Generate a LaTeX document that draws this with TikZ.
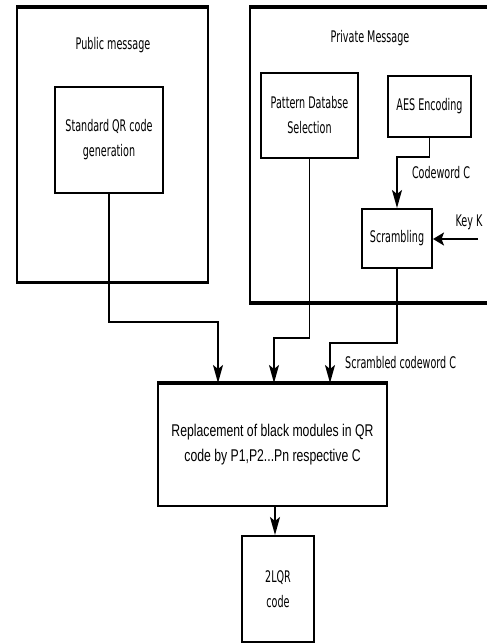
\documentclass[tikz,border=0pt]{standalone}
\usepackage{fontspec}
\newfontfamily\dvfont[FakeStretch=0.6]{DejaVu Sans}
\newfontfamily\lsfont[FakeStretch=0.72]{Liberation Sans}
\usetikzlibrary{arrows.meta}
\tikzset{
  box/.style={draw, line width=2pt, inner sep=0pt, align=center, font=\dvfont\fontsize{16}{25}\selectfont},
  outerbox/.style={draw, line width=2pt, inner sep=0pt},
  lbl/.style={inner sep=0pt, align=center, font=\dvfont\fontsize{16}{25}\selectfont},
  arr/.style={line width=1.8pt, -{Stealth[length=18pt,width=10pt,inset=4pt]}},
  harr/.style={line width=1.8pt, -{Stealth[length=11pt,width=13pt,inset=2.5pt]}},
  thickedge/.style={line width=4pt}
}
\begin{document}
\begin{tikzpicture}[x=1pt,y=-1pt]
\useasboundingbox (0,0) rectangle (487,643);
\clip (0,0) rectangle (487,643);
\fill[white] (0,0) rectangle (487,643);
% outer boxes
\node[outerbox, minimum width=191pt, minimum height=274pt] (pub) at (112.5,144.5) {};
\draw[thickedge] (pub.north west) -- (pub.north east);
\draw[line width=3pt] (pub.south west) -- (pub.south east);
\node[lbl] (pubt) at (113,45) {Public message};
\node[outerbox, minimum width=270pt, minimum height=294pt] (priv) at (385,155) {};
\draw[thickedge] (priv.north west) -- (priv.north east);
\draw[line width=3pt] (priv.south west) -- (priv.south east);
\node[lbl] (privt) at (370,38) {Private Message};
% inner boxes
\node[box, minimum width=108pt, minimum height=106pt] (std) at (109,140) {Standard QR code\\generation};
\node[box, minimum width=97pt, minimum height=85pt] (pat) at (309.5,115.5) {Pattern Databse\\Selection};
\node[box, minimum width=83pt, minimum height=61pt] (aes) at (429.5,106.5) {AES Encoding};
\node[box, minimum width=70pt, minimum height=59pt] (scr) at (397,238.5) {Scrambling};
\node[box, minimum width=229pt, minimum height=122pt, font=\lsfont\fontsize{17}{25}\selectfont] (main) at (272.5,445) {Replacement of black modules in QR\\code by P1,P2...Pn respective C};
\draw[line width=3.5pt] (main.north west) -- (main.north east);
\node[box, minimum width=72pt, minimum height=106pt] (lqr) at (278,589) {2LQR\\code};
% labels
\node[lbl] (cw) at (441,173) {Codeword C};
\node[lbl] (kk) at (469,222) {Key K};
\node[lbl, anchor=west] (scw) at (345,363) {Scrambled codeword C};
% connectors
\coordinate (c1) at (397,157);
\draw[arr] (aes.south) |- (c1) -- (scr.north);
\coordinate (key) at (478,239);
\draw[harr] (key) -- (scr.east |- key);
\coordinate (b1) at (218,322);
\draw[arr] (std.south) |- (b1) -- (b1 |- main.north);
\coordinate (b2) at (274,338);
\draw[arr] (pat.south) |- (b2) -- (b2 |- main.north);
\coordinate (b3) at (330,343);
\draw[arr] (scr.south) |- (b3) -- (b3 |- main.north);
\coordinate (d1) at (275,0);
\draw[arr] (main.south -| d1) -- (lqr.north -| d1);
\end{tikzpicture}
\end{document}
